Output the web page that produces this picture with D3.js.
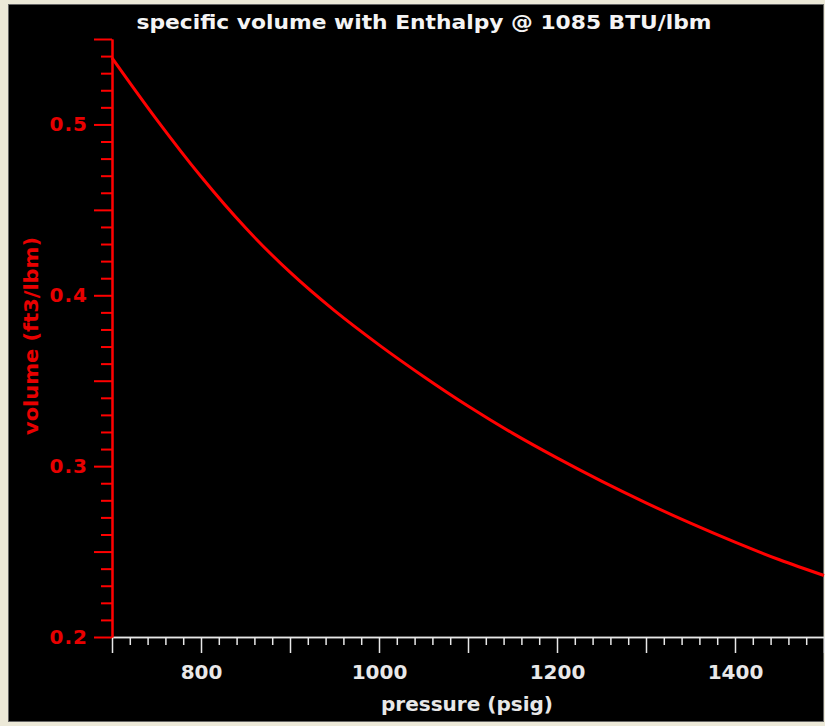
<!DOCTYPE html>
<html>
<head>
<meta charset="utf-8">
<script src="https://cdn.jsdelivr.net/npm/d3@7"></script>
<style>
  html, body { margin: 0; padding: 0; background: #ece9d8; }
  svg { display: block; }
</style>
</head>
<body>
<svg id="chart" width="825" height="726"></svg>
<script>
// ---- data ----
const pressure = [700, 750, 800, 850, 900, 950, 1000, 1050, 1100, 1150, 1200, 1250, 1300, 1350, 1400, 1450, 1500];
const volume   = [0.539, 0.503, 0.4695, 0.4395, 0.4135, 0.391, 0.371, 0.3525, 0.3352, 0.3193, 0.3048, 0.2912, 0.2785, 0.2666, 0.2555, 0.2452, 0.236];
const xTickLabels = [800, 1000, 1200, 1400];
const yTickLabels = [0.2, 0.3, 0.4, 0.5];
const titleText = "specific volume with Enthalpy @ 1085 BTU/lbm";
const xLabelText = "pressure (psig)";
const yLabelText = "volume (ft3/lbm)";

const svg = d3.select("#chart");
const RED = "#ff0000";
const TXTRED = "#e80000";
const WHITE = "#e8e8e8";
const FONT = "'DejaVu Sans', sans-serif";

// panel
svg.append("rect").attr("x", 8.5).attr("y", 4.5).attr("width", 815).attr("height", 717)
  .attr("fill", "#000").attr("stroke", "#666").attr("stroke-width", 1);

const x = d3.scaleLinear().domain([700, 1500]).range([112, 824]);
const y = d3.scaleLinear().domain([0.2, 0.55]).range([637, 39]);

// title
svg.append("text").attr("x", 424).attr("y", 29).attr("text-anchor", "middle")
  .attr("fill", "#f4f4f4").attr("font-family", FONT).attr("font-weight", "bold")
  .attr("font-size", 19).attr("textLength", 575).attr("lengthAdjust", "spacingAndGlyphs")
  .text(titleText);

// x axis ticks
const xMinor = d3.range(700, 1501, 20).filter(v => v % 100 !== 0);
const xMajor = d3.range(700, 1501, 100);
svg.append("g").attr("transform", "translate(0,637)")
  .call(d3.axisBottom(x).tickValues(xMinor).tickSize(8).tickSizeOuter(0).tickFormat(""))
  .call(g => g.selectAll("line,path").attr("stroke", WHITE).attr("stroke-width", 1.5));
svg.append("g").attr("transform", "translate(0,637)")
  .call(d3.axisBottom(x).tickValues(xMajor).tickSize(16).tickSizeOuter(0).tickFormat(""))
  .call(g => g.selectAll("line,path").attr("stroke", WHITE).attr("stroke-width", 1.5));
svg.append("g").attr("transform", "translate(0,637)")
  .call(d3.axisBottom(x).tickValues(xTickLabels).tickSize(16).tickPadding(12).tickFormat(d3.format("d")))
  .call(g => g.select(".domain").remove())
  .call(g => g.selectAll("line").attr("stroke", "none"))
  .call(g => g.selectAll("text").attr("fill", WHITE).attr("font-family", FONT)
    .attr("font-weight", "bold").attr("font-size", 20));

// y axis
const yMinor = d3.range(20, 56, 1).filter(v => v % 5 !== 0).map(v => v / 100);
const yMajor = d3.range(20, 56, 5).map(v => v / 100);
svg.append("g").attr("transform", "translate(112,0)")
  .call(d3.axisLeft(y).tickValues(yMinor).tickSize(11).tickSizeOuter(0).tickFormat(""))
  .call(g => g.selectAll("line,path").attr("stroke", RED).attr("stroke-width", 2));
svg.append("g").attr("transform", "translate(112,0)")
  .call(d3.axisLeft(y).tickValues(yMajor).tickSize(18).tickSizeOuter(0).tickFormat(""))
  .call(g => g.selectAll("line,path").attr("stroke", RED).attr("stroke-width", 2));
svg.append("g").attr("transform", "translate(112,0)")
  .call(d3.axisLeft(y).tickValues(yTickLabels).tickSize(18).tickPadding(6).tickFormat(d3.format(".1f")))
  .call(g => g.select(".domain").remove())
  .call(g => g.selectAll("line").attr("stroke", "none"))
  .call(g => g.selectAll("text").attr("fill", TXTRED).attr("font-family", FONT)
    .attr("font-weight", "bold").attr("font-size", 20).attr("letter-spacing", 1));

// axis labels
svg.append("text").attr("x", 467).attr("y", 711).attr("text-anchor", "middle")
  .attr("fill", WHITE).attr("font-family", FONT).attr("font-weight", "bold")
  .attr("font-size", 20).attr("textLength", 172).attr("lengthAdjust", "spacingAndGlyphs")
  .text(xLabelText);
svg.append("text").attr("transform", "translate(38,336) rotate(-90)").attr("text-anchor", "middle")
  .attr("fill", TXTRED).attr("font-family", FONT).attr("font-weight", "bold")
  .attr("font-size", 19).attr("textLength", 198).attr("lengthAdjust", "spacingAndGlyphs")
  .text(yLabelText);

// curve
const line = d3.line().x((d, i) => x(pressure[i])).y(d => y(d)).curve(d3.curveMonotoneX);
svg.append("path").datum(volume).attr("d", line)
  .attr("fill", "none").attr("stroke", RED).attr("stroke-width", 3);
</script>
</body>
</html>
